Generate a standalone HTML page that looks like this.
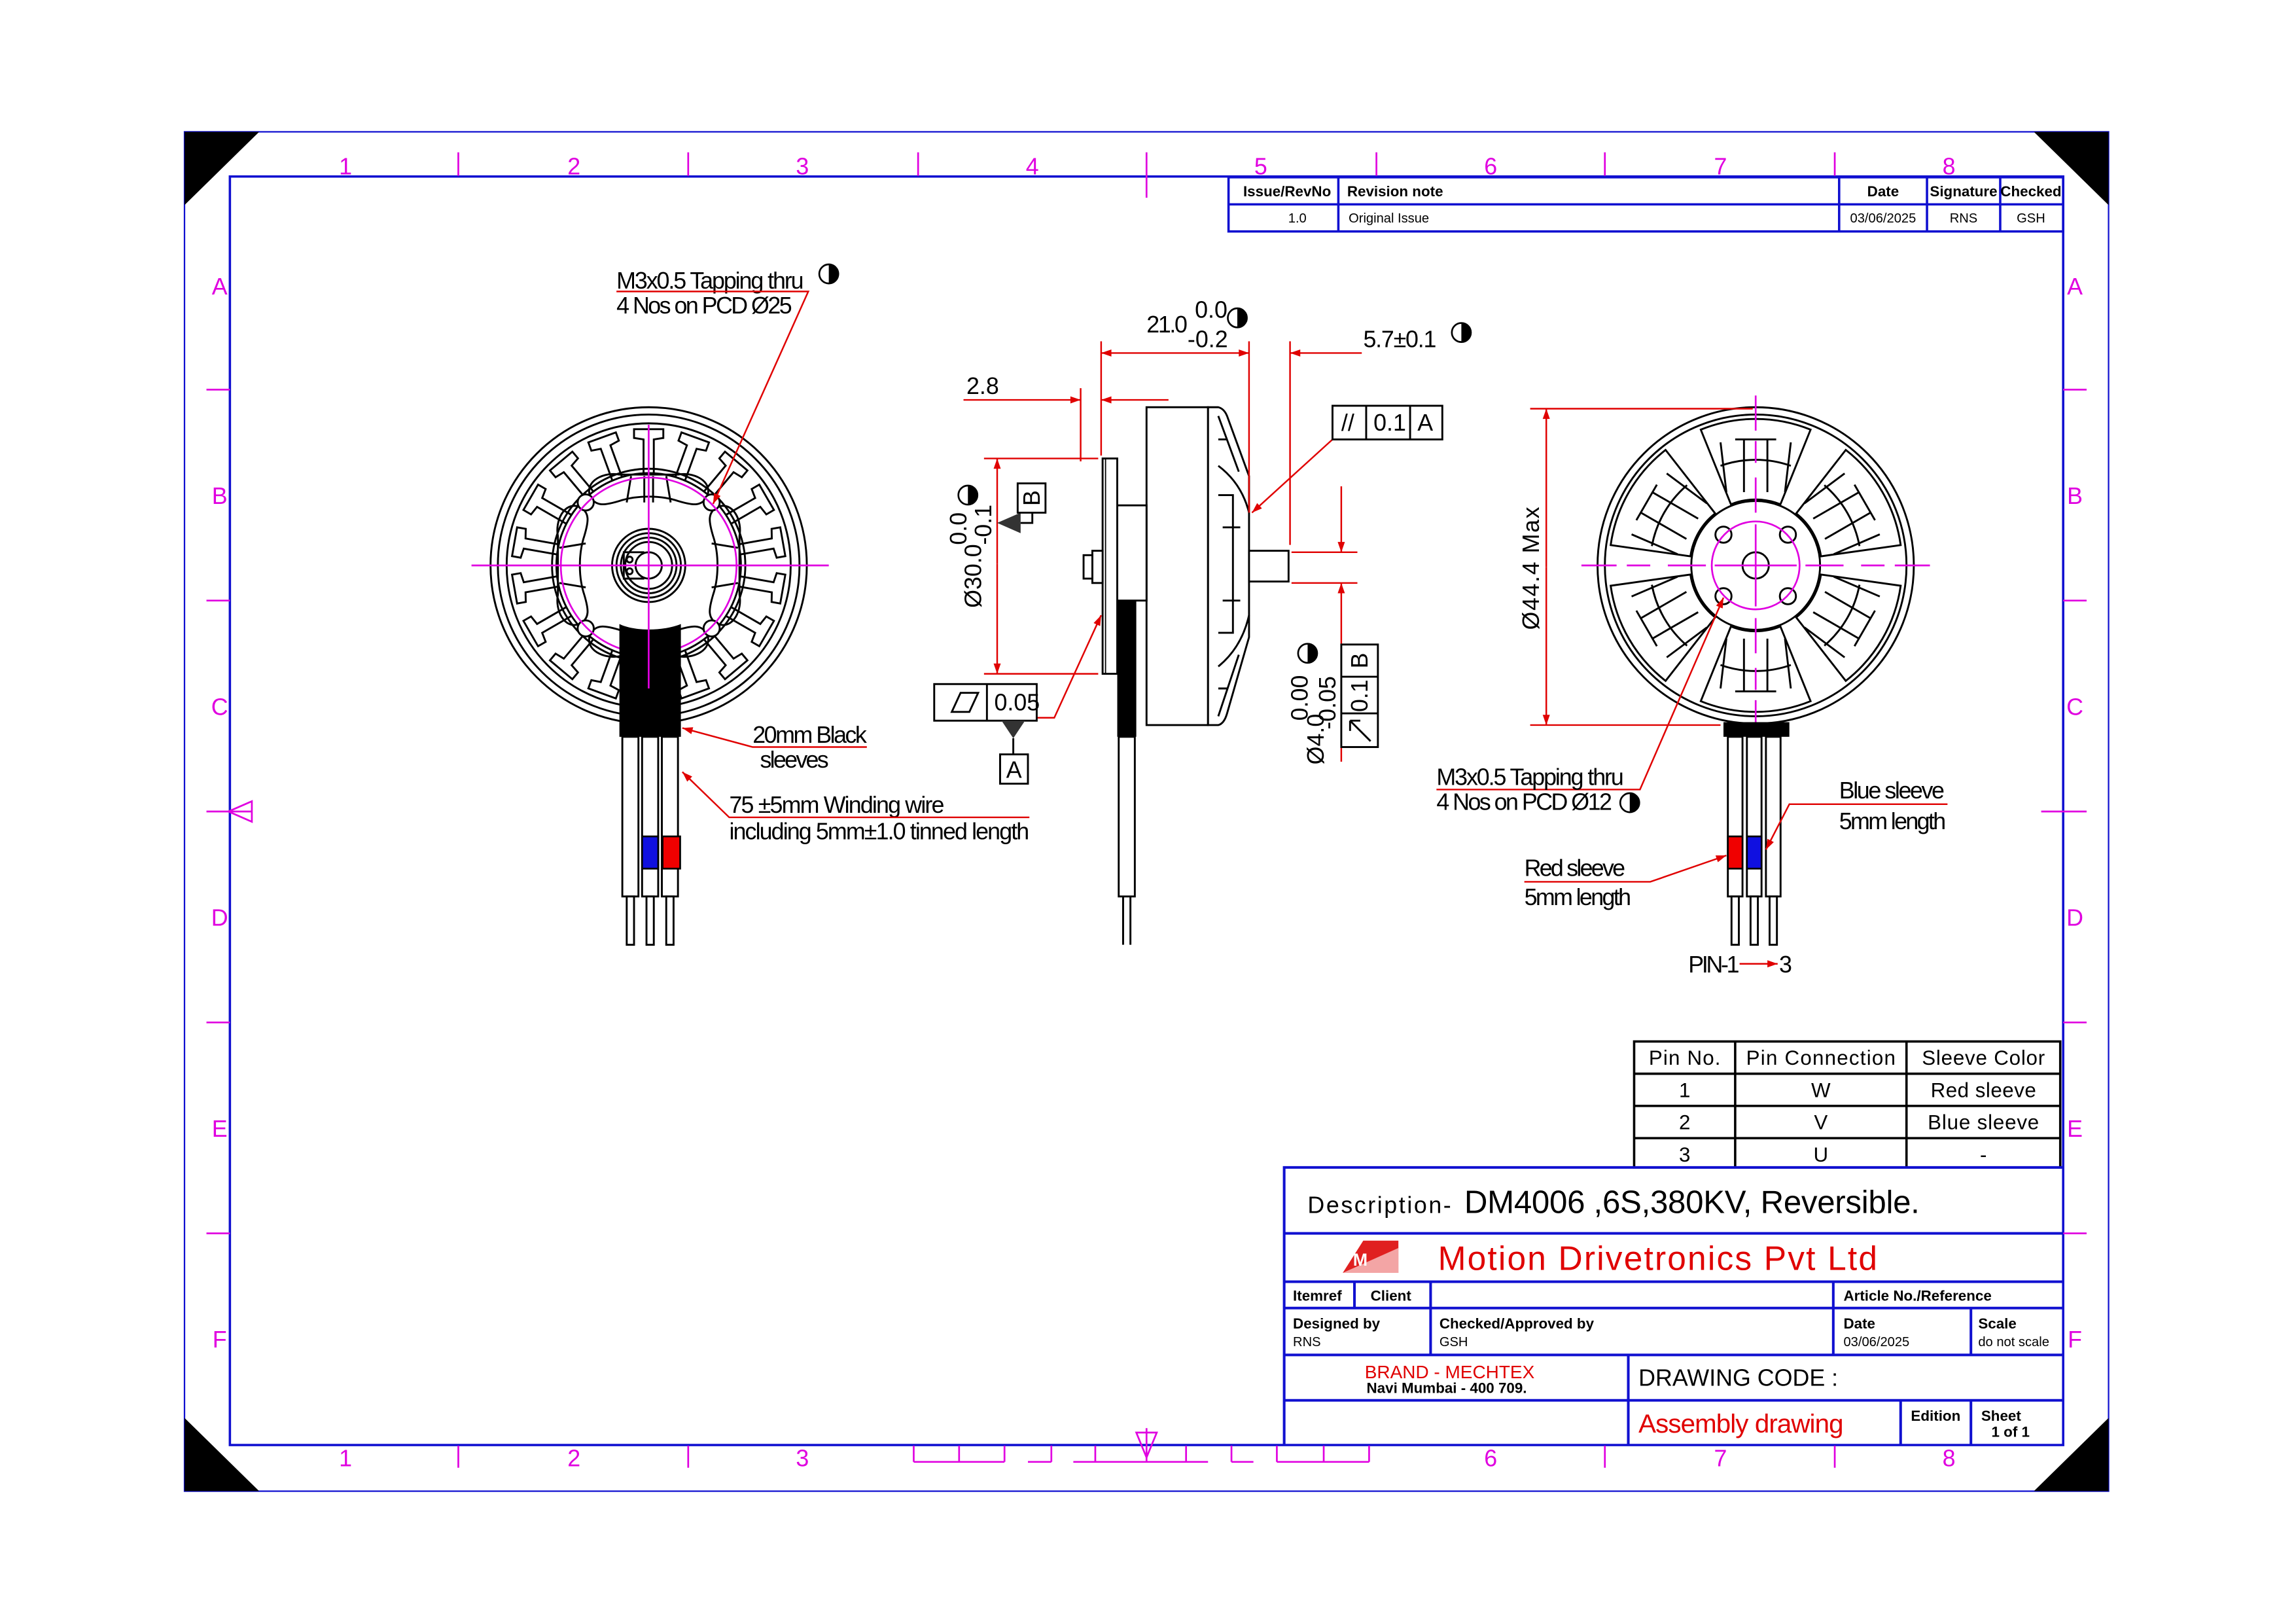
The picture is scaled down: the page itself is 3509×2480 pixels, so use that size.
<!DOCTYPE html>
<html><head><meta charset="utf-8"><style>
html,body{margin:0;padding:0;background:#fff;}
svg{display:block;}
text{font-family:"Liberation Sans Narrow","Liberation Sans",sans-serif;}
.b{stroke:#000;fill:none;stroke-width:1.3}
.bf{stroke:#000;fill:#fff;stroke-width:1.3}
.m{stroke:#e000e0;fill:none;stroke-width:1.2}
.r{stroke:#e00000;fill:none;stroke-width:1.1}
.bl{stroke:#1010d0;fill:none}
.mt{fill:#e000e0;font-family:"Liberation Sans",sans-serif;font-size:16px;text-anchor:middle}
.t{fill:#000;font-size:16px}
.tb{fill:#000;font-size:10px;font-weight:bold}
.ts{fill:#000;font-size:9px}
</style></head><body>
<svg width="3509" height="2480" viewBox="0 0 1568 1108" preserveAspectRatio="none" xmlns="http://www.w3.org/2000/svg">
<defs>
<marker id="ar" viewBox="0 0 10 10" refX="10" refY="5" markerWidth="14" markerHeight="7" markerUnits="userSpaceOnUse" orient="auto"><path d="M0,1.5 L10,5 L0,8.5 Z" fill="#e00000"/></marker>
<g id="tooth"><path d="M-3.5,-63 L-3.5,-86 L-10,-87 L-10,-93 L10,-93 L10,-87 L3.5,-86 L3.5,-63" class="b" stroke-width="1"/></g>
<g id="win"><path d="M-16.9,-41.7 L-37.5,-92.7 A100 100 0 0 1 37.5,-92.7 L16.9,-41.7 A45 45 0 0 0 -16.9,-41.7 Z" class="b" stroke-width="1.1"/>
<path d="M-20,-50 L-24,-84 M-8,-50 L-8,-86 M8,-50 L8,-86 M20,-50 L24,-84 M-14,-86 L14,-86 M-24,-68 A72 72 0 0 1 24,-68" class="b" stroke-width="0.9"/></g>
<g id="half"><circle r="6.5" fill="#fff" stroke="#000" stroke-width="1.2"/><path d="M0,-6.5 A6.5 6.5 0 0 1 0,6.5 Z" fill="#000"/></g>
</defs>
<rect width="1568" height="1108" fill="#fff"/>

<!-- frame -->
<rect x="126" y="90" width="1314" height="928" class="bl" stroke-width="1"/>
<rect x="157" y="120.5" width="1252" height="866" class="bl" stroke-width="1.6"/>
<path d="M126,90 L177,90 L126,140 Z M1440,90 L1389,90 L1440,140 Z M126,1018 L177,1018 L126,968 Z M1440,1018 L1389,1018 L1440,968 Z" fill="#000"/>
<g class="m" stroke-width="1.3">
<path d="M313,104 V120 M470,104 V120 M627,104 V120 M783,104 V135 M940,104 V120 M1096,104 V120 M1253,104 V120"/>
<path d="M313,987 V1002 M470,987 V1002 M1096,987 V1002 M1253,987 V1002"/>
<path d="M141,266 H157 M141,410 H157 M141,554 H172 M141,698 H157 M141,842 H157"/>
<path d="M1409,266 H1425 M1409,410 H1425 M1394,554 H1425 M1409,698 H1425 M1409,842 H1425"/>
<path d="M624,987 V998 M655,987 V998 M686,987 V998 M718,987 V998 M748,987 V998 M783,975 V998 M810,987 V998 M841,987 V998 M872,987 V998 M904,987 V998 M935,987 V998 M624,998 H686 M702,998 H718 M733,998 H825 M841,998 H856 M872,998 H935"/>
<path d="M776,978 H790 L783,995 Z M156,554 L172,547 V561 Z"/>
</g>
<g class="mt">
<text x="236" y="119">1</text><text x="392" y="119">2</text><text x="548" y="119">3</text><text x="705" y="119">4</text><text x="861" y="119">5</text><text x="1018" y="119">6</text><text x="1175" y="119">7</text><text x="1331" y="119">8</text>
<text x="236" y="1001">1</text><text x="392" y="1001">2</text><text x="548" y="1001">3</text><text x="1018" y="1001">6</text><text x="1175" y="1001">7</text><text x="1331" y="1001">8</text>
<text x="150" y="201">A</text><text x="150" y="344">B</text><text x="150" y="488">C</text><text x="150" y="632">D</text><text x="150" y="776">E</text><text x="150" y="920">F</text>
<text x="1417" y="201">A</text><text x="1417" y="344">B</text><text x="1417" y="488">C</text><text x="1417" y="632">D</text><text x="1417" y="776">E</text><text x="1417" y="920">F</text>
</g>

<!-- revision table -->
<g class="bl" stroke-width="1.6">
<rect x="839" y="121" width="570" height="37"/>
<path d="M839,139.5 H1409 M914,121 V158 M1256,121 V158 M1316,121 V158 M1366,121 V158"/>
</g>
<text x="849" y="134" class="tb">Issue/RevNo</text><text x="920" y="134" class="tb">Revision note</text>
<text x="1286" y="134" class="tb" text-anchor="middle">Date</text><text x="1341" y="134" class="tb" text-anchor="middle">Signature</text><text x="1387" y="134" class="tb" text-anchor="middle">Checked</text>
<text x="886" y="152" class="ts" text-anchor="middle">1.0</text><text x="921" y="152" class="ts">Original Issue</text>
<text x="1286" y="152" class="ts" text-anchor="middle">03/06/2025</text><text x="1341" y="152" class="ts" text-anchor="middle">RNS</text><text x="1387" y="152" class="ts" text-anchor="middle">GSH</text>

<!-- ================= LEFT MOTOR ================= -->
<g transform="translate(443,386)">
<circle r="108" class="b" stroke-width="1.5"/>
<circle r="103" class="b" stroke-width="1.3"/>
<circle r="97" class="b" stroke-width="0.9"/>
<use href="#tooth"/><use href="#tooth" transform="rotate(20)"/><use href="#tooth" transform="rotate(40)"/><use href="#tooth" transform="rotate(60)"/><use href="#tooth" transform="rotate(80)"/><use href="#tooth" transform="rotate(100)"/><use href="#tooth" transform="rotate(120)"/><use href="#tooth" transform="rotate(140)"/><use href="#tooth" transform="rotate(160)"/><use href="#tooth" transform="rotate(180)"/><use href="#tooth" transform="rotate(200)"/><use href="#tooth" transform="rotate(220)"/><use href="#tooth" transform="rotate(240)"/><use href="#tooth" transform="rotate(260)"/><use href="#tooth" transform="rotate(280)"/><use href="#tooth" transform="rotate(300)"/><use href="#tooth" transform="rotate(320)"/><use href="#tooth" transform="rotate(340)"/>
<circle r="66" class="b" stroke-width="1"/>
<circle r="63" class="bf" stroke-width="2"/>
<path d="M-40,-47 C-44,-58 -30,-64 -20,-62 L20,-62 C30,-64 44,-58 40,-47 C36,-40 30,-41 20,-44 C8,-48 -8,-48 -20,-44 C-30,-41 -36,-40 -40,-47 Z" class="b"/>
<path d="M-40,47 C-44,58 -30,64 -20,62 L20,62 C30,64 44,58 40,47 C36,40 30,41 20,44 C8,48 -8,48 -20,44 C-30,41 -36,40 -40,47 Z" class="b"/>
<path d="M-47,-40 C-58,-44 -64,-30 -62,-20 L-62,20 C-64,30 -58,44 -47,40 C-40,36 -41,30 -44,20 C-48,8 -48,-8 -44,-20 C-41,-30 -40,-36 -47,-40 Z" class="b"/>
<path d="M47,-40 C58,-44 64,-30 62,-20 L62,20 C64,30 58,44 47,40 C40,36 41,30 44,20 C48,8 48,-8 44,-20 C41,-30 40,-36 47,-40 Z" class="b"/>
<path d="M-15,-43 L-12,-61 M-3,-43 L-3,-61 M3,-43 L3,-61 M15,-43 L12,-61 M-43,-15 L-61,-12 M-43,15 L-61,12 M43,-15 L61,-12 M43,15 L61,12" class="b" stroke-width="0.9"/>
<circle cx="-43" cy="-43" r="5.5" class="bf" stroke-width="1.6"/><circle cx="43" cy="-43" r="5.5" class="bf" stroke-width="1.6"/><circle cx="-43" cy="43" r="5.5" class="bf" stroke-width="1.6"/><circle cx="43" cy="43" r="5.5" class="bf" stroke-width="1.6"/>
<circle r="60" class="m" stroke-width="1.2"/>
<circle r="25" class="b" stroke-width="2"/><circle r="22" class="b" stroke-width="1"/><circle r="19" class="b" stroke-width="1"/><circle r="16" class="b" stroke-width="1"/>
<circle r="9" class="b" stroke-width="1.6"/>
<path d="M-3,-9 L-17,-9 L-17,9 L-3,9" class="b" stroke-width="1.2"/><circle cx="-13" cy="-4" r="2" class="b"/><circle cx="-13" cy="4" r="2" class="b"/>
<path d="M-20,40 C-10,45 10,45 22,40 L22,117 L-20,117 Z" fill="#000"/>
<path d="M-121,0 H123 M0,-96 V84" class="m"/>
</g>
<g class="bf" stroke-width="1.3">
<rect x="425" y="503" width="11" height="109"/><rect x="438.5" y="503" width="11" height="109"/><rect x="452" y="503" width="11" height="109"/>
<rect x="428" y="612" width="5" height="33"/><rect x="441.5" y="612" width="5" height="33"/><rect x="455" y="612" width="5" height="33"/>
</g>
<rect x="438.5" y="571" width="11" height="22" fill="#1010e0" stroke="#000" stroke-width="1.2"/>
<rect x="452.5" y="571" width="12" height="22" fill="#f00000" stroke="#000" stroke-width="1.2"/>
<text x="421" y="197" class="t" textLength="128">M3x0.5 Tapping thru</text>
<text x="421" y="214" class="t" textLength="120">4 Nos on PCD Ø25</text>
<use href="#half" x="566" y="187"/>
<path d="M421,199 H552 L487,344" class="r" marker-end="url(#ar)"/>
<text x="514" y="507" class="t" textLength="78">20mm Black</text>
<text x="519" y="524" class="t" textLength="47">sleeves</text>
<path d="M592,510 H514 L466,497" class="r" marker-end="url(#ar)"/>
<text x="498" y="555" class="t" textLength="147">75 ±5mm Winding wire</text>
<text x="498" y="573" class="t" textLength="205">including 5mm±1.0 tinned length</text>
<path d="M703,558 H498 L466,527" class="r" marker-end="url(#ar)"/>

<!-- ================= SIDE VIEW ================= -->
<g class="bf">
<rect x="783" y="278" width="42" height="217"/>
<path d="M825,278 L832,278 Q836,279 838,284 L853,325 L853,435 L838,487 Q836,494 832,495 L825,495 Z"/>
<path d="M832,284 L846,322 M832,489 L846,447 M832,318 Q848,330 853,350 M832,455 Q848,442 853,420 M832,338 H842 V432 H832 M835,360 H847 M835,410 H847 M832,300 H838 M832,470 H838"/>
<rect x="763" y="345" width="20" height="65"/>
<rect x="753" y="313" width="10" height="147"/>
<path d="M755,313 V460" stroke-width="0.8"/>
<rect x="746" y="376" width="7" height="22"/>
<rect x="740" y="379" width="6" height="16"/>
<rect x="853" y="376" width="27" height="21"/>
</g>
<rect x="763" y="410" width="13" height="93" fill="#000"/>
<rect x="764" y="503" width="11" height="109" class="bf"/>
<path d="M767,612 V645 M772,612 V645" class="b"/>
<g class="r">
<path d="M752,233 V311 M738,265 V315 M853,233 V350 M881,233 V372"/>
<path d="M805,241 H752" marker-end="url(#ar)"/><path d="M805,241 H853" marker-end="url(#ar)"/>
<path d="M930,241 H881" marker-end="url(#ar)"/>
<path d="M658,273 H738" marker-end="url(#ar)"/><path d="M798,273 H752" marker-end="url(#ar)"/>
<path d="M672,313 H750 M672,460 H750"/>
<path d="M681,385 V313" marker-end="url(#ar)"/><path d="M681,385 V460" marker-end="url(#ar)"/>
<path d="M882,377 H927 M882,398 H927"/>
<path d="M916,332 V377" marker-end="url(#ar)"/><path d="M916,440 V398" marker-end="url(#ar)"/>
<path d="M916,510 V520"/>
<path d="M708,490 H720 L752,420" marker-end="url(#ar)"/>
<path d="M910,300 L855,350" marker-end="url(#ar)"/>
</g>
<text x="783" y="227" class="t" textLength="28">21.0</text>
<text x="816" y="217" class="t" font-size="15">0.0</text>
<text x="811" y="237" class="t" font-size="15">-0.2</text>
<use href="#half" x="845" y="217"/>
<text x="931" y="237" class="t" textLength="50">5.7±0.1</text>
<use href="#half" x="998" y="227"/>
<text x="660" y="269" class="t">2.8</text>
<text transform="translate(670,415) rotate(-90)" class="t">Ø30.0</text>
<text transform="translate(660,372) rotate(-90)" class="t" font-size="14">0.0</text>
<text transform="translate(677,372) rotate(-90)" class="t" font-size="14">-0.1</text>
<use href="#half" x="661" y="338"/>
<path d="M681,357 L697,350 L697,364 Z" fill="#333"/><path d="M697,357 H705 V350" class="b" stroke-width="1"/>
<rect x="695" y="330" width="19" height="20" class="bf" stroke-width="1.2"/>
<text transform="translate(710,340) rotate(-90)" class="t" font-size="15" text-anchor="middle">B</text>
<rect x="638" y="467" width="70" height="25" class="bf" stroke-width="1.3"/><path d="M674,467 V492" class="b"/>
<path d="M650,486 L656,473 L668,473 L662,486 Z" class="b" stroke-width="1"/>
<text x="679" y="485" class="t">0.05</text>
<path d="M684,492 L700,492 L692,504 Z" fill="#333"/><path d="M692,504 V515" class="b" stroke-width="1"/>
<rect x="683" y="515" width="19" height="20" class="bf" stroke-width="1.2"/><text x="692.5" y="531" class="t" text-anchor="middle">A</text>
<rect x="910" y="277" width="75" height="23" class="bf" stroke-width="1.3"/><path d="M933,277 V300 M963,277 V300" class="b"/>
<text x="916" y="294" class="t">//</text><text x="938" y="294" class="t">0.1</text><text x="968" y="294" class="t">A</text>
<text transform="translate(904,522) rotate(-90)" class="t">Ø4.0</text>
<text transform="translate(893,492) rotate(-90)" class="t" font-size="14">0.00</text>
<text transform="translate(912,498) rotate(-90)" class="t" font-size="14">-0.05</text>
<use href="#half" x="893" y="446"/>
<rect x="916" y="440" width="25" height="70" class="bf" stroke-width="1.3"/><path d="M916,462 H941 M916,487 H941" class="b"/>
<text transform="translate(934,451) rotate(-90)" class="t" text-anchor="middle">B</text>
<text transform="translate(934,475) rotate(-90)" class="t" text-anchor="middle">0.1</text>
<path d="M936,506 L922,492 M922,492 L922,499 M922,492 L929,492" class="b" stroke-width="1.2"/>

<!-- ================= RIGHT MOTOR ================= -->
<g transform="translate(1199,386)">
<circle r="108" class="b" stroke-width="1.5"/>
<circle r="103" class="b" stroke-width="1"/>
<use href="#win"/><use href="#win" transform="rotate(60)"/><use href="#win" transform="rotate(120)"/><use href="#win" transform="rotate(180)"/><use href="#win" transform="rotate(240)"/><use href="#win" transform="rotate(300)"/>
<circle r="44" class="b" stroke-width="1.3"/>
<circle cx="-22" cy="-21" r="5.5" class="bf" stroke-width="1.8"/><circle cx="22" cy="-21" r="5.5" class="bf" stroke-width="1.8"/><circle cx="-22" cy="21" r="5.5" class="bf" stroke-width="1.8"/><circle cx="22" cy="21" r="5.5" class="bf" stroke-width="1.8"/>
<circle r="30" class="m"/>
<circle r="9" class="b" stroke-width="2"/>
<path d="M-119,0 H-95 M-88,0 H-72 M-60,0 H-34 M-28,0 H28 M34,0 H60 M72,0 H88 M95,0 H119 M0,-116 V-92 M0,-85 V-70 M0,-60 V-36 M0,-28 V28 M0,36 V60 M0,70 V85 M0,92 V116" class="m"/>
<rect x="-22" y="107" width="45" height="10" fill="#000"/>
</g>
<g class="bf" stroke-width="1.3">
<rect x="1180" y="503" width="10" height="109"/><rect x="1193" y="503" width="10" height="109"/><rect x="1206" y="503" width="10" height="109"/>
<rect x="1182.5" y="612" width="5" height="33"/><rect x="1195.5" y="612" width="5" height="33"/><rect x="1208.5" y="612" width="5" height="33"/>
</g>
<rect x="1180" y="571" width="10" height="22" fill="#f00000" stroke="#000" stroke-width="1.2"/>
<rect x="1193" y="571" width="10" height="22" fill="#1010e0" stroke="#000" stroke-width="1.2"/>
<g class="r">
<path d="M1045,279 H1197 M1045,495 H1175"/>
<path d="M1056,387 V279" marker-end="url(#ar)"/><path d="M1056,387 V495" marker-end="url(#ar)"/>
<path d="M981,539 H1120 L1177,408" marker-end="url(#ar)"/>
<path d="M1330,549 H1222 L1206,580" marker-end="url(#ar)"/>
<path d="M1041,602 H1127 L1179,584" marker-end="url(#ar)"/>
<path d="M1188,658 H1214" marker-end="url(#ar)"/>
</g>
<text transform="translate(1051,430) rotate(-90)" class="t" font-size="17" textLength="84">Ø44.4 Max</text>
<text x="981" y="536" class="t" textLength="128">M3x0.5 Tapping thru</text>
<text x="981" y="553" class="t" textLength="120">4 Nos on PCD Ø12</text>
<use href="#half" x="1113" y="548"/>
<text x="1256" y="545" class="t" textLength="72">Blue sleeve</text>
<text x="1256" y="566" class="t" textLength="73">5mm length</text>
<text x="1041" y="598" class="t" textLength="69">Red sleeve</text>
<text x="1041" y="618" class="t" textLength="73">5mm length</text>
<text x="1153" y="664" class="t" textLength="35">PIN-1</text>
<text x="1215" y="664" class="t">3</text>

<!-- pin table -->
<g stroke="#000" fill="none" stroke-width="1.6">
<rect x="1116" y="711" width="291" height="86"/>
<path d="M1116,733 H1407 M1116,755 H1407 M1116,777 H1407 M1185,711 V797 M1302,711 V797"/>
</g>
<g fill="#000" font-size="14" text-anchor="middle">
<text x="1150.5" y="727" textLength="49">Pin No.</text>
<text x="1243.5" y="727" textLength="102">Pin Connection</text>
<text x="1354.5" y="727" textLength="84">Sleeve Color</text>
<text x="1150.5" y="749">1</text><text x="1243.5" y="749">W</text><text x="1354.5" y="749" textLength="72">Red sleeve</text>
<text x="1150.5" y="771">2</text><text x="1243.5" y="771">V</text><text x="1354.5" y="771" textLength="76">Blue sleeve</text>
<text x="1150.5" y="793">3</text><text x="1243.5" y="793">U</text><text x="1354.5" y="793">-</text>
</g>

<!-- title block -->
<g class="bl" stroke-width="1.8">
<path d="M877,987 V797 H1409"/>
<path d="M877,842 H1409 M877,875 H1409 M877,893 H1409 M877,925 H1409 M877,956 H1409"/>
<path d="M925,875 V893 M977,875 V925 M1252,875 V925 M1346,893 V925 M1112,925 V987 M1298,956 V987 M1346,956 V987"/>
</g>
<text x="893" y="828" class="t" font-size="20" textLength="98">Description-</text>
<text x="1000" y="828" fill="#000" font-size="22" textLength="311">DM4006 ,6S,380KV, Reversible.</text>
<path d="M917,869 L931,847 L955,847 L955,869 Z" fill="#e02020"/><path d="M917,869 L955,852 L955,869 Z" fill="#fff" opacity="0.6"/>
<text x="924" y="864" fill="#fff" font-size="12" font-weight="bold">M</text>
<text x="982" y="867" fill="#e00000" font-size="23" textLength="300">Motion Drivetronics Pvt Ltd</text>
<text x="883" y="888" class="tb" font-size="10.5">Itemref</text><text x="936" y="888" class="tb" font-size="10.5">Client</text>
<text x="1259" y="888" class="tb" font-size="10.5">Article No./Reference</text>
<text x="883" y="907" class="tb" font-size="10.5">Designed by</text><text x="883" y="919" class="ts">RNS</text>
<text x="983" y="907" class="tb" font-size="10.5">Checked/Approved by</text><text x="983" y="919" class="ts">GSH</text>
<text x="1259" y="907" class="tb" font-size="10.5">Date</text><text x="1259" y="919" class="ts">03/06/2025</text>
<text x="1351" y="907" class="tb" font-size="10.5">Scale</text><text x="1351" y="919" class="ts">do not scale</text>
<text x="990" y="941" fill="#e00000" font-size="12.5" text-anchor="middle">BRAND - MECHTEX</text>
<text x="988" y="951" class="tb" font-size="8" text-anchor="middle">Navi Mumbai - 400 709.</text>
<text x="1119" y="946" class="t" font-size="17">DRAWING CODE :</text>
<text x="1119" y="978" fill="#e00000" font-size="18" textLength="140">Assembly drawing</text>
<text x="1305" y="970" class="tb" font-size="10.5">Edition</text>
<text x="1353" y="970" class="tb" font-size="10.5">Sheet</text><text x="1360" y="981" class="tb" font-size="7.5">1 of 1</text>
</svg>
</body></html>
